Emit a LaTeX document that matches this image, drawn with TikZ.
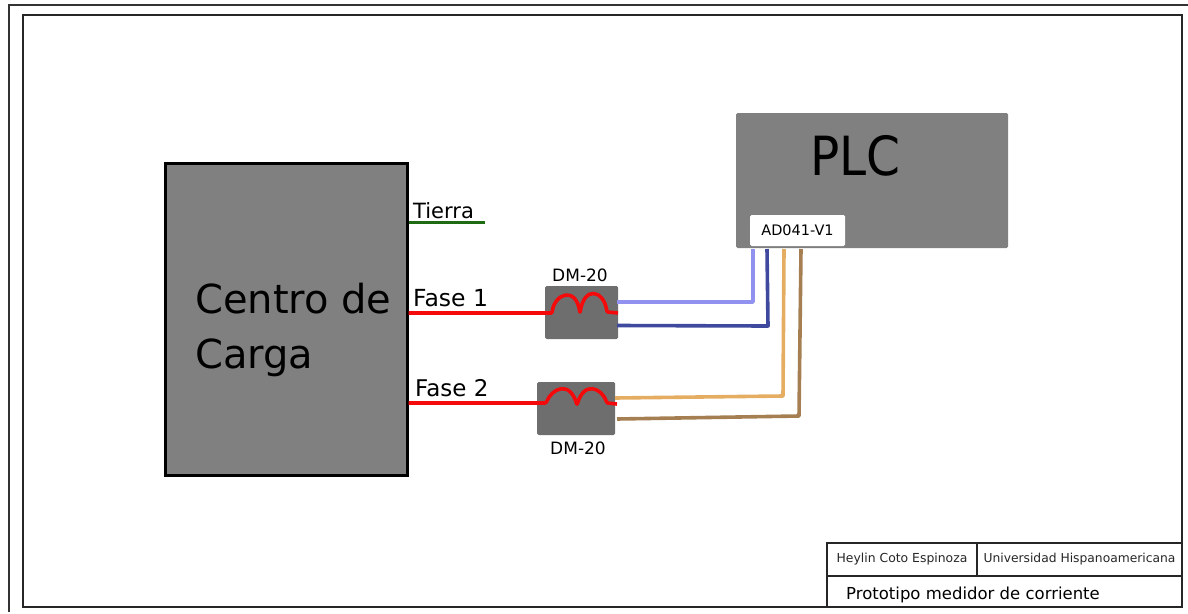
\documentclass[tikz,border=0pt]{standalone}
\usepackage{fontspec}
\setmainfont{DejaVu Sans}
\definecolor{plcGray}{HTML}{808080}
\definecolor{dmGray}{HTML}{6E6E6E}
\definecolor{wireRed}{HTML}{F40A0A}
\definecolor{wireGreen}{HTML}{1F6B14}
\definecolor{wireLight}{HTML}{9191F0}
\definecolor{wireDark}{HTML}{3F4A9E}
\definecolor{wireOrange}{HTML}{E5AD62}
\definecolor{wireBrown}{HTML}{A57F52}
\usetikzlibrary{
	positioning,
	calc
}
\tikzset{
	plcbox/.style={fill=plcGray,rounded corners=1.5pt,inner sep=0pt},
	dmbox/.style={fill=dmGray,rounded corners=1.5pt,inner sep=0pt,minimum height=53pt},
	sheettext/.style={inner sep=0pt,anchor=base west},
	wire/.style={line width=3.6pt,line join=round},
	cable/.style={line width=3.6pt,line join=round},
	sheetline/.style={line width=1.6pt,black!85}
}
\begin{document}
\begin{tikzpicture}[x=1pt,y=-1pt]
		\useasboundingbox (0,0) rectangle (1188,613);
		\draw[line width=1.8pt,black!80] (1188,5) -- (9,5) -- (9,612);
		\draw[sheetline] (23,15) rectangle (1182,607);
		\node[draw=black,line width=3pt,fill=plcGray,inner sep=0pt,minimum width=242pt,minimum height=312pt] (centro) at (286,319) {};
		\node[plcbox,minimum width=272pt,minimum height=135pt] (plc) at (872,180.5) {};
		\node[fill=white,rounded corners=1.5pt,inner sep=0pt,minimum width=95pt,minimum height=31pt,font=\fontsize{14.5}{16}\selectfont] (port) at (797.5,230.5) {AD041-V1};
		\node[dmbox,minimum width=73pt] (dmA) at (581.5,312.5) {};
		\node[dmbox,minimum width=78pt] (dmB) at (576,408.5) {};
		\node[sheettext,font=\fontsize{54}{60}\selectfont,xscale=0.9] (plctext) at (810,175) {PLC};
		\node[sheettext,font=\fontsize{40}{52}\selectfont] (centrotext) at (195,313) {Centro de};
		\node[sheettext,font=\fontsize{40}{52}\selectfont] (cargatext) at (195,368) {Carga};
		\node[sheettext,font=\fontsize{21}{24}\selectfont] (tierra) at (413,218) {Tierra};
		\node[sheettext,font=\fontsize{23.5}{28}\selectfont] (fasea) at (413,306) {Fase 1};
		\node[sheettext,font=\fontsize{23}{28}\selectfont] (faseb) at (415,396) {Fase 2};
		\node[font=\fontsize{17}{20}\selectfont,inner sep=0pt] (dmAtext) at (580,275) {DM-20};
		\node[font=\fontsize{17}{20}\selectfont,inner sep=0pt] (dmBtext) at (578,448) {DM-20};
		\coordinate (tierraEnd) at (485,222.5);
		\draw[line width=3pt,wireGreen] (centro.east |- tierraEnd) -- (tierraEnd);
		\draw[wire,wireRed,rounded corners=1pt] (centro.east |- 0,313) -- (552,313) .. controls (554,294) and (576,285) .. (580,313) .. controls (584,285) and (604,290) .. (607,312) -- (618,313);
		\draw[wire,wireRed,rounded corners=1pt] (centro.east |- 0,403) -- (546,403) .. controls (552,388) and (570,380) .. (577,405) .. controls (584,380) and (602,388) .. (607,403) -- (617,404);
		\coordinate (lightA) at (617,302);
		\coordinate (darkA) at (617,325.5);
		\coordinate (orangeA) at (615,398);
		\coordinate (brownA) at (617,419);
		\coordinate (lightB) at (753,302);
		\coordinate (darkB) at (768,326);
		\coordinate (orangeB) at (783,396);
		\coordinate (brownB) at (799,416);
		\coordinate (lightC) at (753,249);
		\coordinate (darkC) at (767,249);
		\coordinate (orangeC) at (784,249);
		\coordinate (brownC) at (801,249);
		\foreach \wname/\wcol in {light/wireLight,dark/wireDark,orange/wireOrange,brown/wireBrown}{
			\draw[cable,\wcol] (\wname A) -- (\wname B) -- (\wname C);
		}
		\node[draw=black,sheetline,inner sep=0pt,minimum width=150pt,minimum height=33pt,font=\fontsize{12.4}{14}\selectfont] (autor) at (902,559.5) {Heylin Coto Espinoza};
		\node[draw=black,sheetline,inner sep=0pt,minimum width=205pt,minimum height=33pt,font=\fontsize{12.3}{14}\selectfont] (univ) at (1079.5,559.5) {Universidad Hispanoamericana};
		\node[draw=black,sheetline,inner sep=0pt,minimum width=355pt,minimum height=31pt] (titulo) at (1004.5,591.5) {};
		\node[sheettext,font=\fontsize{16.5}{18}\selectfont] (titulotext) at (846,599) {Prototipo medidor de corriente};
	\end{tikzpicture}
\end{document}
